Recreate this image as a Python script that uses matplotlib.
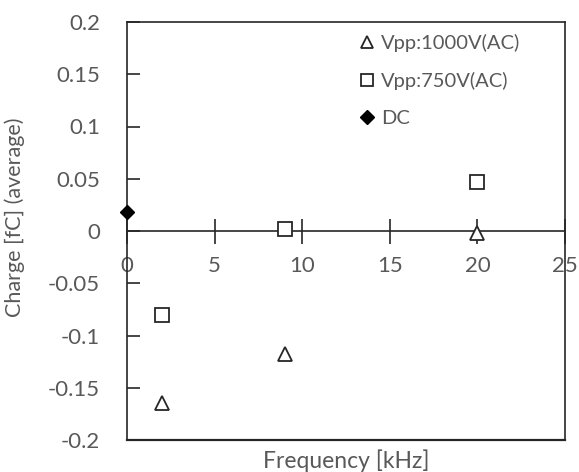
import matplotlib
matplotlib.use("Agg")
import matplotlib.pyplot as plt

freq_1000 = [2, 9, 20]
charge_1000 = [-0.165, -0.118, -0.002]
freq_750 = [2, 9, 20]
charge_750 = [-0.080, 0.002, 0.047]
freq_dc = [0]
charge_dc = [0.018]
xticks = [0, 5, 10, 15, 20, 25]
yticks = [-0.2, -0.15, -0.1, -0.05, 0, 0.05, 0.1, 0.15, 0.2]
ytick_labels = ["-0.2", "-0.15", "-0.1", "-0.05", "0", "0.05", "0.1", "0.15", "0.2"]

txt = "#595959"
plt.rcParams['font.family'] = ['Lato', 'DejaVu Sans']

fig = plt.figure(figsize=(5.79, 4.72), dpi=100)
ax = fig.add_axes([127/579, 32/472, (565-127)/579, (440-22)/472])

ax.plot(freq_1000, charge_1000, linestyle='none', marker='^', markersize=10,
        markerfacecolor='white', markeredgecolor='#262626', markeredgewidth=1.3,
        label='Vpp:1000V(AC)', zorder=3)
ax.plot(freq_750, charge_750, linestyle='none', marker='s', markersize=10,
        markerfacecolor='white', markeredgecolor='#262626', markeredgewidth=1.3,
        label='Vpp:750V(AC)', zorder=3)
ax.plot(freq_dc, charge_dc, linestyle='none', marker='D', markersize=7.5,
        markerfacecolor='black', markeredgecolor='black',
        label='DC', zorder=4, clip_on=False)

ax.set_xlim(0, 25)
ax.set_ylim(-0.2, 0.2)
ax.set_xticks(xticks)
ax.set_yticks(yticks)
ax.set_yticklabels(ytick_labels)

ax.spines['bottom'].set_position(('data', 0))
for s in ax.spines.values():
    s.set_color('#262626')
    s.set_linewidth(1.2)
ax.axhline(-0.2, color='#262626', linewidth=1.6, clip_on=False, zorder=5)

ax.tick_params(axis='x', direction='inout', length=18, width=1.2, color='#262626',
               labelsize=16, labelcolor=txt, pad=9)
ax.tick_params(axis='y', direction='in', length=9, width=1.2, color='#262626',
               labelsize=16, labelcolor=txt, pad=19.5)
for lab in ax.get_xticklabels():
    lab.set_zorder(6)

ax.set_xlabel('Frequency [kHz]', fontsize=16.5, color=txt)
ax.xaxis.set_label_coords(0.5, -0.022)
ax.set_ylabel('Charge [fC] (average)', fontsize=15.5, color=txt)
ax.yaxis.set_label_coords(-0.233, 0.532)

leg = ax.legend(loc='upper left', bbox_to_anchor=(0.49, 1.015), frameon=False,
                fontsize=14.5, labelcolor=txt, handlelength=0.7, handletextpad=0.35,
                labelspacing=1.0, markerscale=0.9)

fig.savefig('out.png', dpi=100)
